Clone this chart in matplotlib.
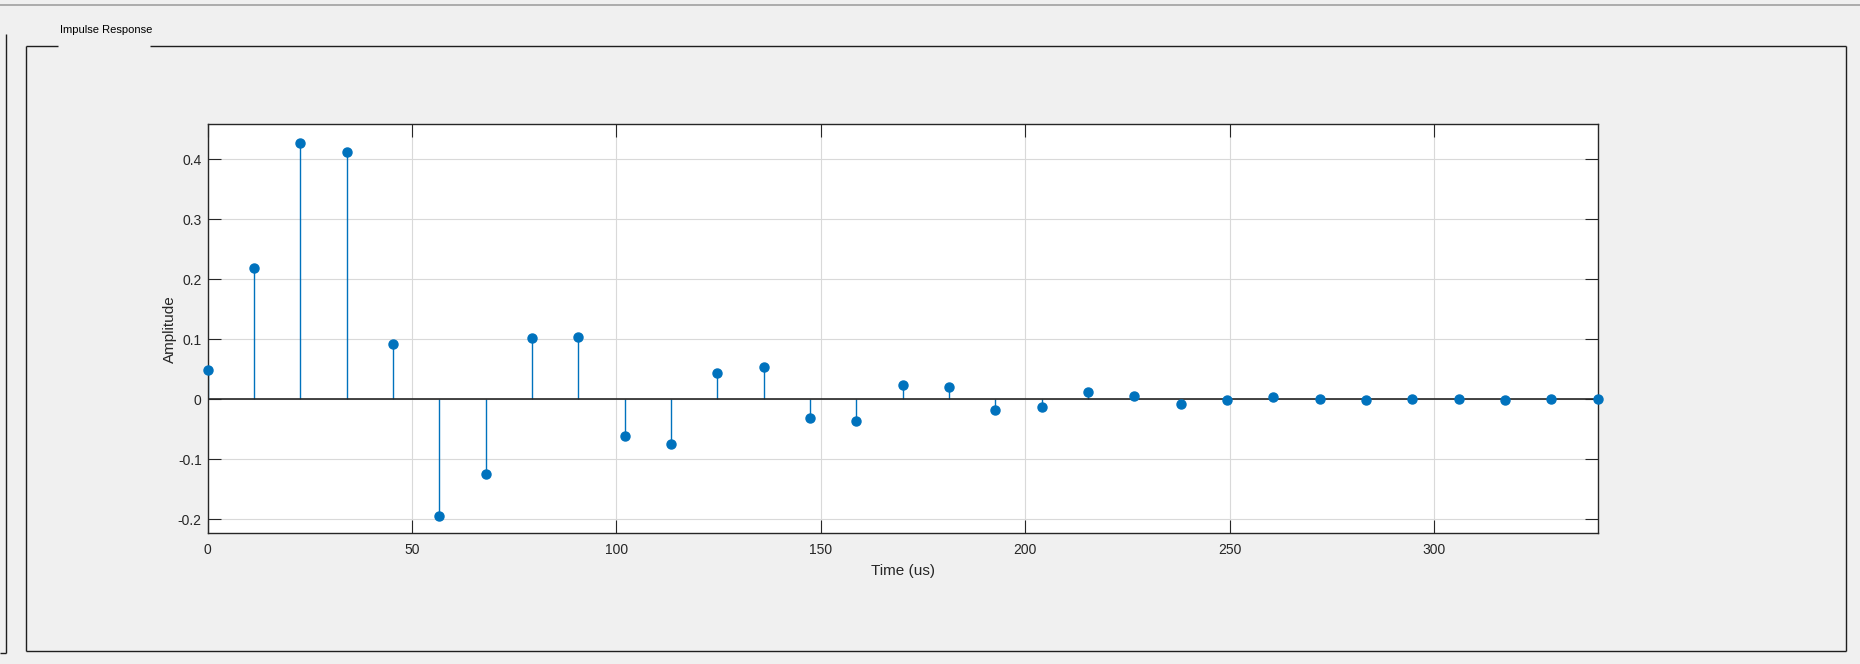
import matplotlib
matplotlib.use("Agg")
import matplotlib.pyplot as plt
from matplotlib.lines import Line2D

plt.rcParams['font.family'] = ['Liberation Sans', 'DejaVu Sans']
plt.rcParams['axes.unicode_minus'] = False

# ---- data ----
time_us = [0.0, 11.33, 22.67, 34.0, 45.33, 56.67, 68.0, 79.33, 90.67, 102.0,
           113.33, 124.67, 136.0, 147.33, 158.67, 170.0, 181.33, 192.67, 204.0, 215.33,
           226.67, 238.0, 249.33, 260.67, 272.0, 283.33, 294.67, 306.0, 317.33, 328.67, 340.0]
amplitude = [0.048, 0.218, 0.427, 0.412, 0.092, -0.194, -0.124, 0.102, 0.104, -0.061,
             -0.075, 0.043, 0.054, -0.031, -0.036, 0.023, 0.021, -0.018, -0.013, 0.012,
             0.006, -0.008, -0.002, 0.004, 0.0, -0.002, 0.0, 0.0005, -0.001, 0.0, 0.0]
x_ticks = [0, 50, 100, 150, 200, 250, 300]
y_ticks = [-0.2, -0.1, 0, 0.1, 0.2, 0.3, 0.4]
y_tick_labels = ['-0.2', '-0.1', '0', '0.1', '0.2', '0.3', '0.4']

W, H = 1860, 664
fig = plt.figure(figsize=(W / 100, H / 100), dpi=100, facecolor='#f0f0f0')

def fx(x):
    return x / W

def fy(y):
    return 1 - y / H

# ---- UI decorations (panel frames) ----
def seg(x0, y0, x1, y1, color='#1e1e1e', lw=1.0):
    fig.add_artist(Line2D([fx(x0), fx(x1)], [fy(y0), fy(y1)], transform=fig.transFigure,
                          color=color, lw=lw, solid_capstyle='butt'))

seg(0, 5.3, W, 5.3, color='#a0a0a0', lw=1.2)
# left neighbouring panel edge
seg(6.3, 34.3, 6.3, 653.3)
seg(0, 653.3, 6.3, 653.3)
# main panel
seg(25.7, 46.3, 58, 46.3)
seg(150, 46.3, 1846.3, 46.3)
seg(25.7, 46.3, 25.7, 651)
seg(25.7, 651, 1846.3, 651)
seg(1846.3, 46.3, 1846.3, 651)
fig.text(fx(60), fy(30), 'Impulse Response', fontsize=8, color='#000000',
         ha='left', va='center')

# ---- axes ----
left, right, top, bottom = 207.6, 1597.8, 124.3, 533.3
ax = fig.add_axes([fx(left), fy(bottom), fx(right - left), (bottom - top) / H])
ax.set_facecolor('white')

blue = '#0072BD'
markerline, stemlines, baseline = ax.stem(time_us, amplitude)
plt.setp(stemlines, color=blue, linewidth=1.0)
plt.setp(markerline, color=blue, marker='o', markersize=6.5, markerfacecolor=blue,
         markeredgecolor=blue, clip_on=False, zorder=5)
plt.setp(baseline, color='#262626', linewidth=1.2)

ax.set_xlim(0, 340)
ax.set_ylim(-0.2233, 0.458)
ax.set_xticks(x_ticks)
ax.set_yticks(y_ticks)
ax.set_yticklabels(y_tick_labels)

ax.grid(True, color='#d9d9d9', linewidth=0.8)
ax.set_axisbelow(True)
for s in ax.spines.values():
    s.set_color('#262626')
    s.set_linewidth(1.0)

ax.tick_params(axis='both', direction='in', length=9.4, width=0.8, color='#262626',
               labelcolor='#262626', labelsize=10, top=True, right=True)
ax.tick_params(axis='x', pad=7)
ax.tick_params(axis='y', pad=4.3)

ax.set_xlabel('Time (us)', fontsize=11, color='#262626')
ax.set_ylabel('Amplitude', fontsize=11, color='#262626')
ax.xaxis.set_label_coords(0.5, (bottom - 563.5) / (bottom - top))
ax.yaxis.set_label_coords((177 - left) / (right - left), 0.5)

fig.savefig('out.png', dpi=100, facecolor=fig.get_facecolor())
